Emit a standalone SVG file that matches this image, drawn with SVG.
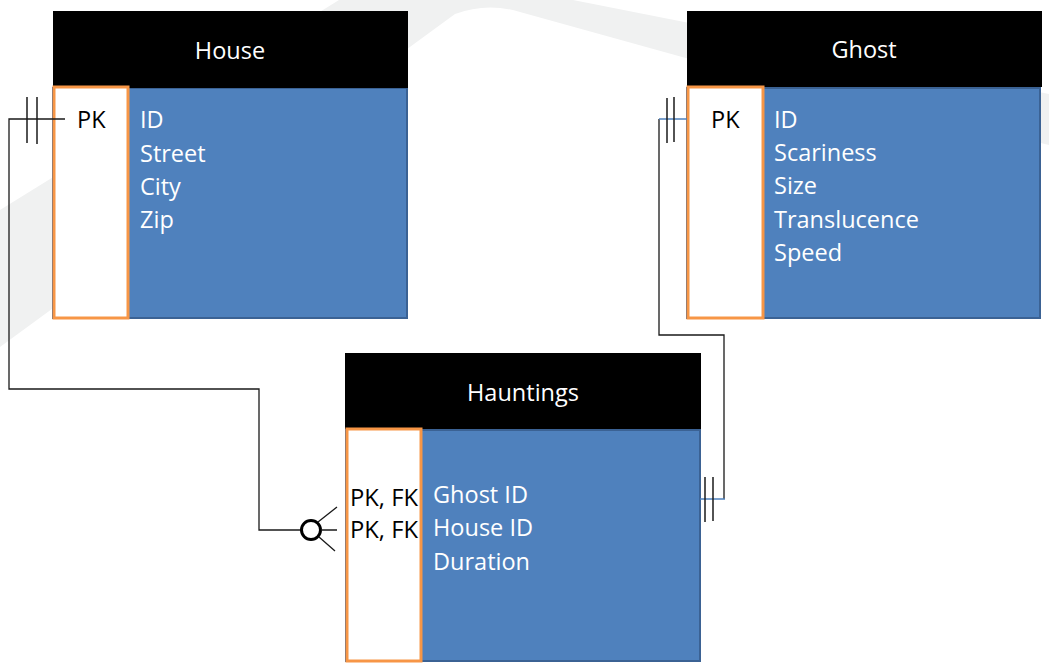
<svg xmlns="http://www.w3.org/2000/svg" width="1049" height="669" viewBox="0 0 1049 669">
<style>
.hdr{fill:#000}
.body{fill:#4f81bd;stroke:#3b6294;stroke-width:2}
.pk{fill:#fff;stroke:#f79646;stroke-width:3}
.t{font-family:"Open Sans","Liberation Sans",Arial,sans-serif;font-size:23.5px}
.w{fill:#fff}
.title{fill:#fff;text-anchor:middle}
.k{fill:#000}
.ln{fill:none;stroke:#1a1a1a;stroke-width:1.3}
.bl{fill:none;stroke:#4f81bd;stroke-width:1.5}
.tick{stroke:#1a1a1a;stroke-width:1.5}
</style>
<rect width="1049" height="669" fill="#fff"/>
<path d="M0,210 L339,0 L573,0 L1049,94 L1049,145 L693,60 L520,12 Q487,2 455,14 L0,347 Z" fill="#f0f1f1"/>
<g id="house">
<rect class="body" x="53" y="88" width="354" height="230"/>
<rect class="hdr" x="53" y="11" width="355" height="77"/>
<rect class="pk" x="54" y="87" width="74" height="231"/>
<text class="t title" x="230" y="59">House</text>
<text class="t k" x="77" y="128">PK</text>
<text class="t w" x="140" y="128">ID</text>
<text class="t w" x="140" y="162">Street</text>
<text class="t w" x="140" y="195">City</text>
<text class="t w" x="140" y="228">Zip</text>
</g>
<g id="ghost">
<rect class="body" x="687" y="88" width="353" height="230"/>
<rect class="hdr" x="687" y="11" width="355" height="76"/>
<rect class="pk" x="688" y="87" width="75" height="231"/>
<text class="t title" x="864" y="58">Ghost</text>
<text class="t k" x="711" y="128">PK</text>
<text class="t w" x="774" y="128">ID</text>
<text class="t w" x="774" y="161">Scariness</text>
<text class="t w" x="774" y="194">Size</text>
<text class="t w" x="774" y="228">Translucence</text>
<text class="t w" x="774" y="261">Speed</text>
</g>
<g id="hauntings">
<rect class="body" x="346" y="430" width="354" height="231"/>
<rect class="hdr" x="345" y="353" width="356" height="76"/>
<rect class="pk" x="347" y="429" width="74" height="232"/>
<text class="t title" x="523" y="401">Hauntings</text>
<text class="t k" x="350" y="506" textLength="68" lengthAdjust="spacingAndGlyphs">PK, FK</text>
<text class="t k" x="350" y="538" textLength="68" lengthAdjust="spacingAndGlyphs">PK, FK</text>
<text class="t w" x="433" y="503">Ghost ID</text>
<text class="t w" x="433" y="536">House ID</text>
<text class="t w" x="433" y="570">Duration</text>
</g>
<g id="connectors">
<path class="ln" d="M65,119 H9 V389 H259 V530 H301"/>
<line class="tick" x1="27" y1="97" x2="27" y2="143"/>
<line class="tick" x1="37" y1="97" x2="37" y2="144"/>
<circle cx="311" cy="530" r="9.5" fill="#fff" stroke="#000" stroke-width="3"/>
<path class="ln" d="M321,530 H337 M318,522 L337,507 M319,537 L335,551"/>
<path class="ln" d="M659,119 V335 H724 V499"/>
<path class="bl" d="M659,119 H687 M700,499 H725"/>
<line class="tick" x1="667" y1="98" x2="667" y2="143"/>
<line class="tick" x1="674" y1="97" x2="674" y2="142"/>
<line class="tick" x1="705" y1="477" x2="705" y2="522"/>
<line class="tick" x1="713" y1="477" x2="713" y2="521"/>
</g>
</svg>
